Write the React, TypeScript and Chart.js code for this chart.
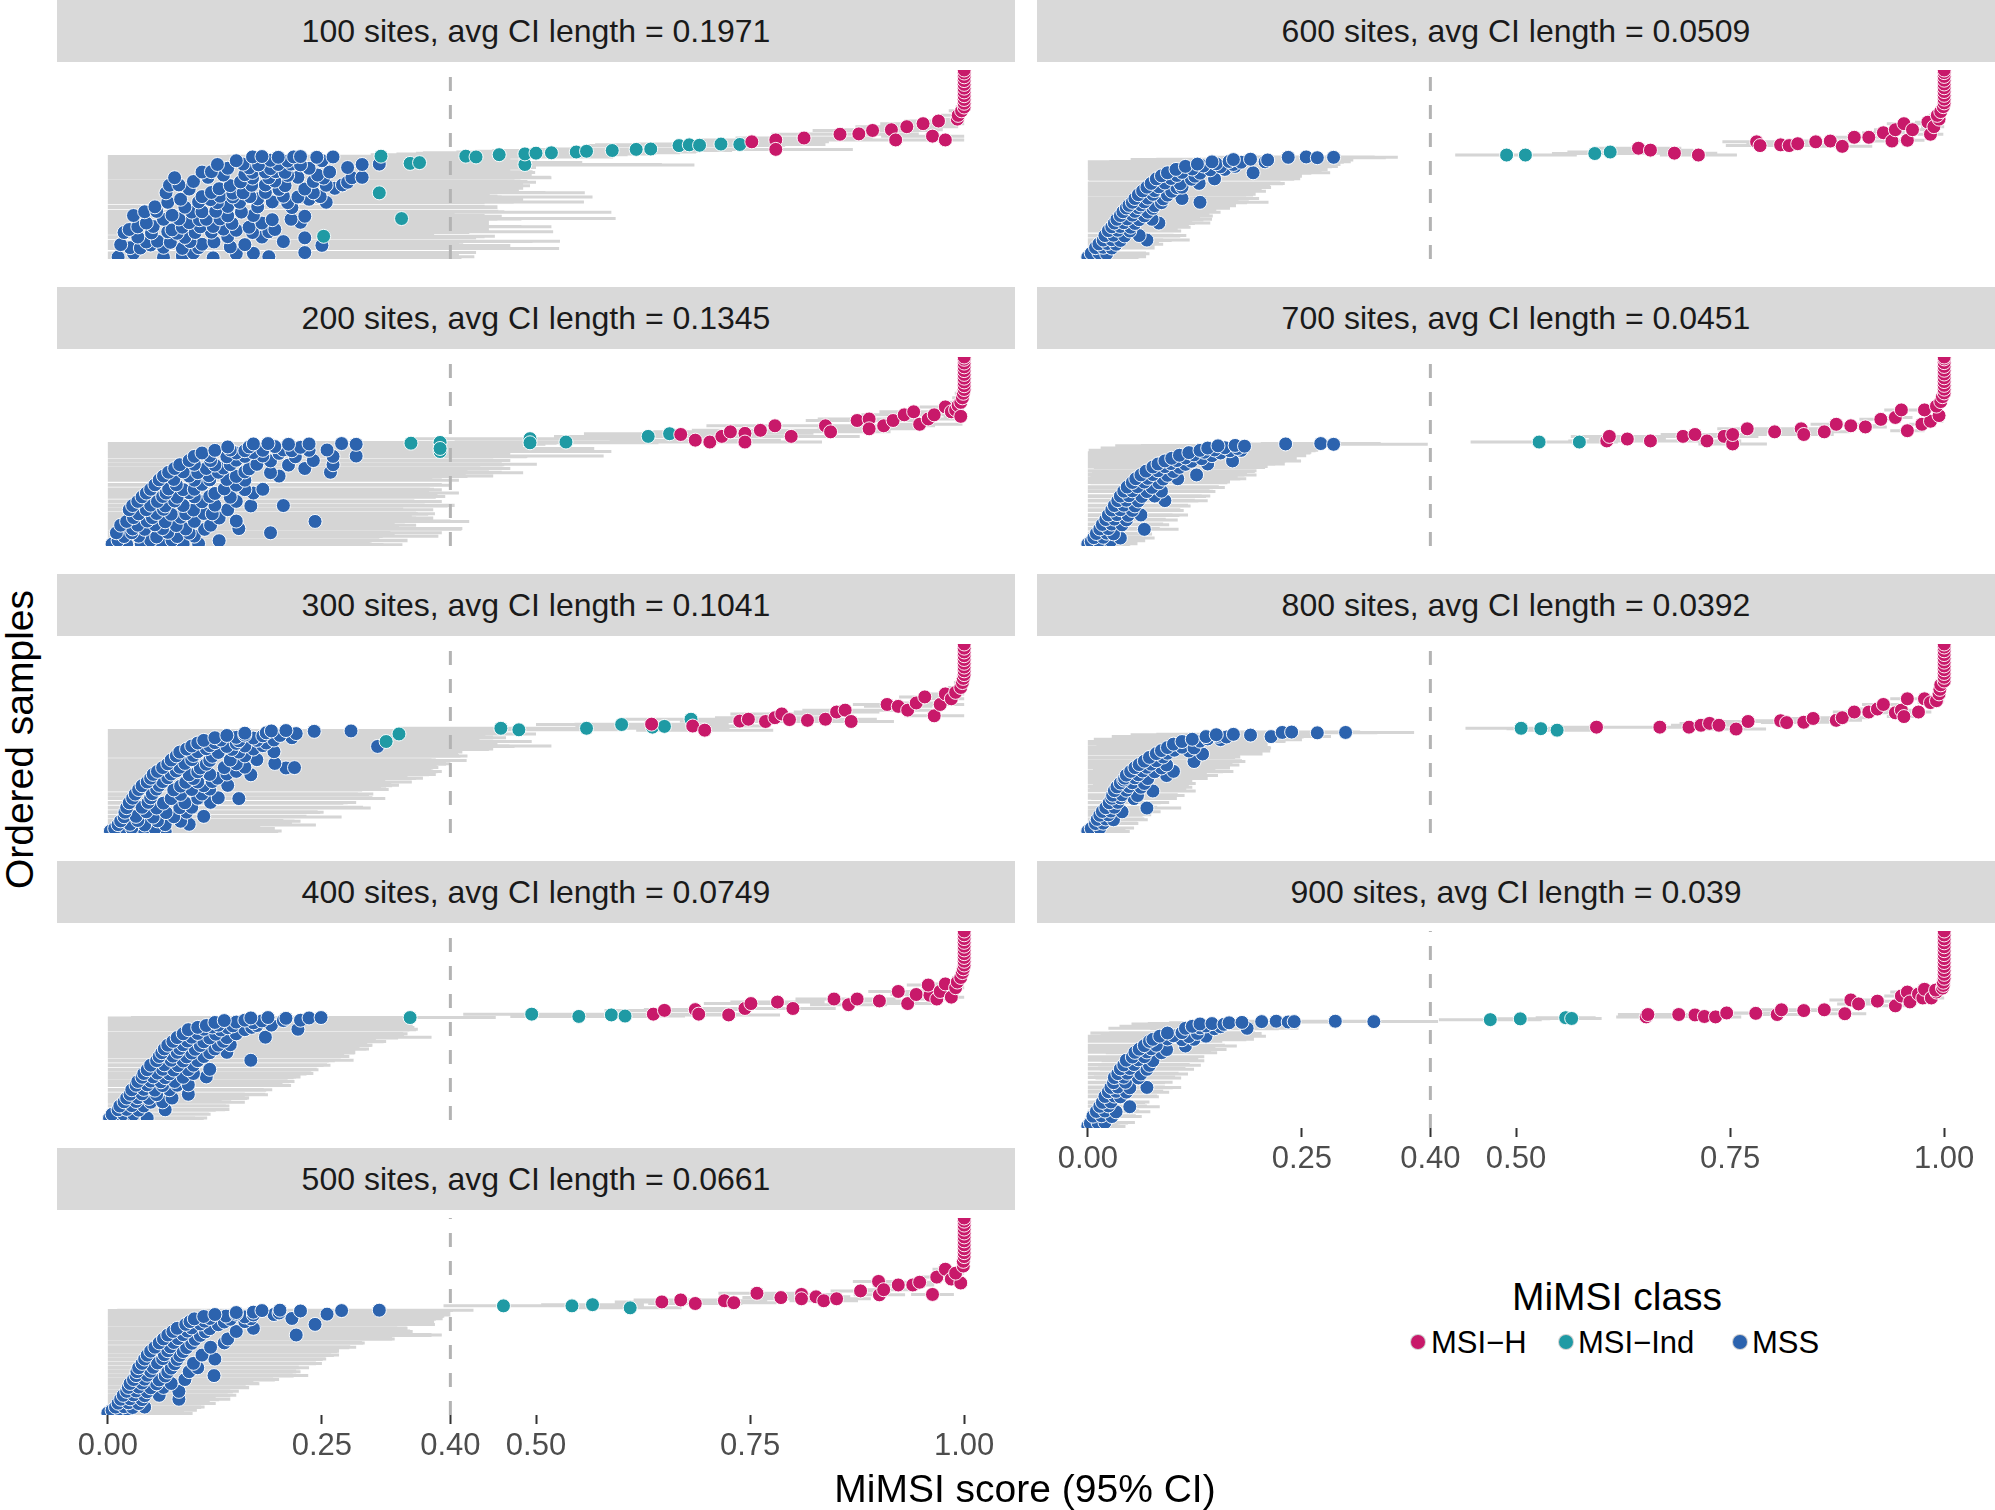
import React, { useEffect, useRef } from "react";
import Chart from "chart.js/auto";

// [order (0 = bottom, 500 = top), MiMSI score x1000, half CI length x1000]
type Pt = [number, number, number];

const SITES = [100, 200, 300, 400, 500, 600, 700, 800, 900];
const AVG_CI = ["0.1971", "0.1345", "0.1041", "0.0749", "0.0661", "0.0509", "0.0451", "0.0392", "0.039"];
const X_TICKS = [0, 0.25, 0.4, 0.5, 0.75, 1];
const THRESHOLD = 0.4;
const ORDER_MAX = 500;
const CLASS_NAMES = ["MSI\u2212H", "MSI\u2212Ind", "MSS"];
const CLASS_COLORS = ["#C8196A", "#1F9AA4", "#2C63AE"];
const FONT = '"Liberation Sans", Arial, Helvetica, sans-serif';

// ---- 100 sites
const P100_MSS: Pt[] = [
    [5, 12, 370], [4, 65, 330], [8, 87, 300], [3, 123, 290], [6, 188, 240],
    [15, 30, 350], [16, 100, 300], [14, 150, 260], [15, 170, 230], [17, 230, 200],
    [30, 26, 420], [29, 38, 280], [31, 65, 350], [28, 87, 440], [30, 106, 250], [32, 143, 230],
    [38, 15, 400], [37, 50, 350], [39, 110, 300], [38, 160, 250], [36, 250, 220],
    [45, 45, 330], [47, 58, 470], [44, 73, 300], [46, 96, 400], [45, 124, 260], [46, 205, 200],
    [58, 35, 380], [57, 90, 320], [59, 140, 300], [58, 180, 230], [56, 230, 200],
    [70, 19, 380], [69, 51, 330], [72, 70, 450], [68, 81, 300], [70, 102, 320], [71, 121, 300], [70, 169, 250], [72, 188, 240],
    [78, 25, 360], [77, 75, 330], [79, 135, 280], [78, 195, 250], [76, 150, 260],
    [85, 35, 360], [86, 53, 430], [84, 87, 300], [85, 108, 410], [86, 123, 260], [84, 165, 250],
    [95, 45, 400], [96, 95, 350], [94, 145, 300], [95, 180, 260], [97, 225, 220],
    [105, 65, 330], [106, 83, 400], [104, 107, 300], [105, 115, 340], [106, 131, 260], [104, 192, 250], [105, 214, 220],
    [115, 30, 380], [116, 75, 330], [114, 140, 300], [115, 170, 270], [113, 230, 230],
    [125, 43, 420], [126, 57, 350], [124, 98, 490], [125, 110, 300], [126, 126, 330], [124, 156, 260],
    [138, 55, 380], [137, 90, 350], [139, 140, 300], [138, 175, 280], [136, 215, 240],
    [150, 70, 330], [151, 106, 450], [149, 128, 300], [150, 154, 320], [151, 192, 280], [149, 210, 230], [150, 255, 200],
    [158, 85, 370], [157, 120, 330], [159, 175, 300], [158, 235, 250],
    [165, 110, 350], [166, 131, 300], [164, 146, 420], [165, 166, 280], [166, 205, 250], [164, 222, 230], [165, 248, 200],
    [175, 68, 350], [176, 121, 390], [174, 146, 300], [175, 158, 250], [176, 184, 260], [175, 240, 220],
    [185, 95, 360], [186, 130, 330], [184, 200, 280], [185, 230, 250], [187, 265, 220],
    [195, 72, 400], [196, 83, 330], [194, 143, 350], [195, 168, 300], [196, 184, 270], [194, 207, 280], [195, 255, 230], [196, 274, 200],
    [205, 100, 350], [204, 155, 300], [206, 195, 280], [205, 240, 250], [203, 280, 220],
    [215, 78, 350], [216, 117, 400], [214, 169, 300], [215, 188, 330], [216, 222, 250], [214, 252, 230], [215, 285, 200], [216, 297, 220],
    [222, 135, 330], [223, 160, 300], [221, 210, 270], [222, 245, 250],
    [230, 110, 370], [231, 121, 300], [229, 169, 330], [230, 184, 260], [231, 196, 300], [229, 207, 250], [230, 259, 230],
    [240, 140, 320], [241, 165, 300], [239, 190, 280], [240, 235, 250], [242, 280, 220],
    [250, 128, 380], [251, 158, 300], [249, 176, 330], [250, 199, 260], [251, 214, 280], [249, 225, 460], [250, 297, 220], [251, 317, 200],
    [260, 150, 300], [261, 190, 280], [259, 210, 260], [260, 250, 230],
    [270, 169, 300], [271, 180, 260], [269, 199, 280], [270, 217, 250], [271, 225, 230], [269, 244, 230], [270, 263, 220],
];
const P100_IND: Pt[] = [
    [60, 252, 200], [107, 343, 250], [175, 317, 240], [272, 319, 180], [253, 353, 200], [255, 364, 190], [250, 487, 160],
    [272, 418, 170], [270, 430, 160], [276, 457, 150], [278, 487, 150], [280, 500, 140], [281, 518, 150], [283, 547, 140],
    [285, 559, 130], [287, 589, 140], [290, 617, 120], [291, 634, 120], [300, 667, 110], [302, 679, 110], [301, 691, 100],
    [304, 716, 100], [303, 738, 100],
];
const P100_H: Pt[] = [
    [310, 752, 90], [315, 780, 90], [290, 780, 90], [320, 813, 80], [330, 855, 80], [331, 877, 70], [340, 893, 70],
    [342, 915, 60], [315, 920, 70], [350, 933, 60], [358, 952, 50], [325, 963, 60], [365, 970, 40], [315, 978, 50],
    [370, 992, 25], [380, 993, 20], [392, 997, 15], [402, 1000, 10], [412, 1000, 6], [422, 1000, 5], [432, 1000, 5],
    [442, 1000, 4], [452, 1000, 4], [462, 1000, 3], [472, 1000, 3], [482, 1000, 3], [492, 1000, 2], [500, 1000, 2],
];

// ---- 200 sites
const P200_MSS: Pt[] = [
    [5, 5, 260], [4, 22, 300], [6, 39, 250], [3, 64, 280], [5, 88, 220], [6, 106, 200],
    [15, 12, 280], [15, 50, 300], [15, 75, 260], [14, 130, 220],
    [25, 19, 290], [26, 36, 350], [24, 57, 260], [25, 81, 240], [26, 101, 230],
    [35, 10, 300], [35, 28, 280], [36, 70, 260], [34, 95, 240], [35, 190, 200],
    [45, 29, 380], [44, 43, 300], [46, 64, 350], [45, 91, 230], [44, 113, 300], [46, 153, 220],
    [55, 15, 320], [55, 35, 300], [56, 55, 280], [54, 80, 260], [55, 120, 240],
    [65, 22, 340], [66, 46, 300], [64, 67, 280], [65, 101, 260], [66, 150, 250], [65, 242, 180],
    [75, 30, 330], [75, 52, 300], [76, 85, 270], [74, 130, 250],
    [85, 36, 320], [86, 57, 290], [84, 74, 300], [85, 91, 280], [86, 112, 250], [85, 122, 260],
    [96, 25, 320], [96, 45, 300], [97, 65, 280], [95, 100, 260], [96, 140, 240],
    [107, 29, 310], [108, 50, 290], [106, 67, 330], [107, 88, 260], [108, 125, 280], [106, 167, 220], [107, 205, 200],
    [118, 35, 330], [118, 58, 300], [119, 78, 280], [117, 110, 260], [118, 150, 240],
    [130, 40, 300], [131, 64, 330], [129, 81, 260], [130, 101, 280], [131, 119, 250], [129, 143, 240],
    [140, 45, 320], [140, 68, 300], [141, 95, 280], [139, 125, 260], [140, 170, 240],
    [150, 50, 320], [151, 71, 290], [149, 88, 300], [150, 101, 260], [151, 136, 240], [149, 160, 230], [150, 181, 200],
    [162, 55, 330], [162, 80, 300], [163, 110, 280], [161, 150, 250],
    [175, 60, 330], [176, 77, 300], [174, 101, 280], [175, 119, 260], [176, 139, 240], [174, 160, 250],
    [185, 65, 340], [185, 95, 310], [186, 118, 300], [184, 150, 270], [185, 200, 250],
    [195, 71, 350], [196, 88, 320], [194, 105, 380], [195, 129, 280], [196, 160, 260], [194, 190, 250], [195, 260, 200],
    [205, 78, 340], [205, 115, 320], [206, 135, 300], [204, 165, 280], [205, 230, 240],
    [215, 84, 340], [216, 101, 400], [214, 125, 300], [215, 143, 280], [216, 174, 300], [214, 211, 250], [215, 263, 200],
    [226, 95, 350], [226, 120, 320], [227, 150, 300], [225, 190, 270], [226, 240, 230],
    [237, 101, 360], [238, 119, 460], [236, 139, 300], [237, 160, 330], [238, 181, 280], [236, 219, 270], [237, 263, 220], [238, 290, 200],
    [246, 110, 360], [246, 150, 320], [247, 170, 300], [245, 200, 270],
    [253, 125, 350], [254, 143, 300], [252, 160, 330], [253, 181, 280], [254, 205, 260], [252, 215, 240], [253, 235, 250], [254, 256, 220],
    [262, 140, 330], [262, 165, 300], [263, 195, 280], [261, 225, 260],
    [270, 170, 330], [271, 187, 280], [269, 211, 300], [270, 235, 250], [271, 273, 230], [269, 290, 220],
];
const P200_IND: Pt[] = [
    [272, 354, 170], [274, 388, 170], [250, 388, 200], [258, 388, 180], [284, 493, 140], [273, 493, 150],
    [275, 535, 130], [290, 631, 110], [297, 656, 100],
];
const P200_H: Pt[] = [
    [295, 669, 100], [280, 686, 100], [275, 703, 90], [290, 717, 90], [302, 727, 90], [298, 744, 80], [275, 744, 90],
    [306, 762, 80], [318, 779, 80], [290, 798, 80], [318, 838, 70], [302, 844, 70], [332, 875, 60], [336, 889, 60],
    [310, 889, 60], [318, 906, 60], [332, 917, 50], [347, 930, 50], [355, 941, 40], [322, 948, 50], [336, 958, 40],
    [347, 965, 40], [368, 978, 30], [355, 985, 30], [360, 990, 20], [372, 993, 15], [343, 996, 20], [380, 996, 15],
    [392, 998, 12], [404, 999, 10], [414, 1000, 6], [424, 1000, 5], [434, 1000, 5], [444, 1000, 4], [454, 1000, 4],
    [464, 1000, 3], [474, 1000, 3], [484, 1000, 3], [494, 1000, 2], [500, 1000, 2],
];

// ---- 300 sites
const P300_MSS: Pt[] = [
    [5, 3, 150], [4, 19, 180], [6, 33, 130], [5, 43, 160], [4, 67, 120],
    [12, 8, 160], [13, 28, 150], [12, 55, 140],
    [22, 12, 180], [23, 26, 150], [21, 43, 200], [22, 67, 140], [23, 95, 120],
    [32, 15, 190], [33, 35, 170], [32, 58, 160], [31, 85, 140],
    [43, 19, 200], [44, 33, 170], [42, 53, 220], [43, 77, 150], [44, 112, 120],
    [55, 20, 220], [56, 45, 200], [54, 68, 180], [55, 92, 160],
    [67, 22, 230], [68, 40, 200], [66, 57, 250], [67, 84, 180], [68, 98, 200],
    [80, 25, 240], [81, 47, 220], [79, 65, 210], [80, 90, 190], [81, 120, 170],
    [92, 29, 260], [93, 50, 220], [91, 74, 250], [92, 105, 200], [93, 129, 180], [91, 153, 150],
    [103, 32, 260], [104, 52, 240], [102, 85, 220], [103, 110, 200],
    [115, 36, 270], [116, 57, 250], [114, 77, 220], [115, 98, 230], [116, 119, 200],
    [125, 40, 280], [126, 60, 260], [124, 85, 240], [125, 112, 220], [126, 140, 200],
    [135, 46, 300], [136, 64, 260], [134, 91, 240], [135, 105, 250], [136, 122, 200],
    [145, 50, 300], [146, 70, 280], [144, 100, 260], [145, 128, 240],
    [155, 53, 330], [156, 74, 300], [154, 95, 280], [155, 119, 260], [156, 139, 240], [154, 167, 200],
    [163, 58, 320], [164, 80, 300], [162, 105, 280], [163, 150, 240],
    [173, 64, 320], [174, 84, 300], [172, 108, 270], [173, 136, 250], [174, 160, 220], [172, 208, 170], [173, 218, 160],
    [183, 70, 320], [184, 90, 300], [182, 115, 280], [183, 150, 250], [184, 195, 200],
    [193, 74, 300], [194, 98, 280], [192, 119, 300], [193, 143, 240], [194, 174, 200],
    [204, 80, 330], [205, 100, 310], [203, 122, 290], [204, 160, 260],
    [214, 84, 330], [215, 105, 300], [213, 129, 280], [214, 153, 260], [215, 194, 200],
    [222, 92, 350], [223, 115, 330], [221, 145, 300], [222, 170, 280],
    [230, 98, 420], [231, 119, 350], [229, 139, 300], [230, 160, 280], [231, 181, 260], [229, 315, 160],
    [238, 105, 340], [239, 125, 320], [237, 150, 300], [238, 185, 270],
    [245, 112, 320], [246, 132, 300], [244, 153, 280], [245, 174, 260], [246, 194, 240],
    [252, 125, 320], [253, 150, 300], [251, 170, 280], [252, 215, 250],
    [258, 139, 300], [259, 160, 280], [257, 181, 260], [258, 201, 240],
    [264, 160, 280], [265, 185, 260], [263, 220, 230],
    [270, 191, 250], [271, 208, 240], [269, 241, 200], [270, 284, 180],
];
const P300_IND: Pt[] = [
    [242, 325, 170], [262, 340, 160], [277, 459, 120], [273, 480, 120], [277, 559, 110], [287, 600, 100],
    [280, 636, 90], [282, 650, 90], [301, 681, 80],
];
const P300_H: Pt[] = [
    [288, 635, 90], [283, 683, 80], [272, 697, 80], [296, 738, 70], [301, 748, 70], [295, 768, 70], [305, 779, 70],
    [315, 787, 60], [300, 796, 60], [298, 817, 60], [301, 838, 60], [320, 851, 50], [325, 861, 50], [295, 868, 50],
    [340, 910, 40], [335, 923, 40], [325, 934, 40], [344, 944, 35], [360, 954, 30], [310, 965, 35], [340, 972, 30],
    [368, 978, 25], [355, 985, 25], [372, 990, 20], [385, 996, 15], [398, 998, 10], [409, 999, 8], [419, 1000, 5],
    [429, 1000, 5], [439, 1000, 4], [449, 1000, 4], [459, 1000, 3], [469, 1000, 3], [479, 1000, 3], [489, 1000, 2],
    [500, 1000, 2],
];

// ---- 400 sites
const P400_MSS: Pt[] = [
    [5, 2, 90], [4, 12, 100], [6, 22, 80], [5, 46, 70],
    [15, 5, 95], [16, 18, 100], [15, 30, 90],
    [27, 12, 110], [28, 22, 120], [26, 36, 90], [27, 67, 70],
    [37, 14, 115], [38, 28, 110], [37, 42, 100],
    [48, 19, 120], [49, 33, 100], [47, 50, 110], [48, 64, 80],
    [58, 22, 130], [59, 35, 125], [57, 48, 115], [58, 75, 90],
    [68, 26, 140], [69, 40, 120], [67, 57, 130], [68, 94, 90],
    [80, 28, 150], [81, 42, 140], [79, 55, 130], [80, 72, 120],
    [92, 33, 160], [93, 46, 140], [91, 64, 150], [92, 81, 120], [93, 94, 110],
    [102, 35, 170], [103, 50, 160], [101, 62, 150], [102, 78, 140],
    [113, 40, 180], [114, 53, 160], [112, 67, 150], [113, 88, 130], [114, 115, 110],
    [123, 42, 190], [124, 58, 180], [122, 72, 160], [123, 100, 140],
    [133, 46, 200], [134, 64, 180], [132, 77, 160], [133, 94, 150], [134, 119, 120],
    [145, 50, 200], [146, 66, 190], [144, 82, 170], [145, 100, 160],
    [157, 57, 200], [158, 74, 190], [156, 88, 170], [157, 105, 160], [158, 167, 120],
    [168, 60, 210], [169, 76, 200], [167, 92, 180], [168, 112, 170],
    [178, 63, 220], [179, 81, 200], [177, 98, 190], [178, 119, 170], [179, 139, 150],
    [188, 66, 225], [189, 84, 210], [187, 102, 200], [188, 125, 180],
    [198, 70, 230], [199, 88, 210], [197, 108, 200], [198, 129, 180], [199, 143, 160],
    [208, 76, 235], [209, 93, 220], [207, 112, 210], [208, 135, 190],
    [218, 81, 240], [219, 98, 280], [217, 119, 220], [218, 139, 200], [219, 184, 150],
    [228, 88, 250], [229, 105, 240], [227, 126, 220], [228, 150, 200],
    [239, 94, 250], [240, 112, 230], [238, 132, 220], [239, 160, 200], [240, 222, 140],
    [245, 105, 245], [246, 122, 230], [244, 140, 215], [245, 168, 190],
    [250, 115, 240], [251, 129, 220], [249, 146, 210], [250, 174, 180], [251, 191, 160],
    [258, 125, 225], [259, 150, 200], [257, 170, 180],
    [263, 136, 210], [264, 160, 190], [262, 180, 170], [263, 205, 150], [264, 225, 130],
    [270, 167, 180], [271, 187, 160], [269, 208, 140], [270, 235, 120], [271, 249, 110],
];
const P400_IND: Pt[] = [
    [271, 353, 100], [280, 495, 80], [274, 550, 80], [278, 588, 70], [275, 604, 70],
];
const P400_H: Pt[] = [
    [280, 637, 70], [290, 650, 70], [292, 686, 60], [280, 690, 60], [278, 725, 60], [295, 744, 60], [308, 751, 55],
    [312, 782, 55], [295, 800, 50], [320, 848, 45], [305, 865, 45], [320, 875, 45], [315, 901, 40], [340, 923, 35],
    [308, 934, 35], [332, 944, 30], [330, 960, 25], [357, 958, 25], [320, 968, 25], [340, 972, 20], [360, 978, 20],
    [325, 985, 20], [350, 990, 15], [365, 992, 12], [377, 996, 10], [390, 998, 8], [400, 999, 8], [410, 1000, 5],
    [420, 1000, 5], [430, 1000, 4], [440, 1000, 4], [450, 1000, 4], [460, 1000, 3], [470, 1000, 3], [480, 1000, 3],
    [490, 1000, 2], [500, 1000, 2],
];

// ---- 500 sites
const P500_MSS: Pt[] = [
    [5, 0, 80], [4, 9, 90], [6, 19, 70],
    [12, 5, 85], [13, 14, 90], [12, 24, 80],
    [20, 9, 100], [21, 19, 90], [19, 29, 80], [20, 43, 70],
    [30, 12, 105], [31, 24, 95], [29, 36, 90],
    [40, 15, 110], [41, 26, 100], [39, 40, 90], [40, 83, 60],
    [50, 18, 120], [51, 30, 110], [49, 43, 100], [50, 60, 90],
    [60, 22, 130], [61, 33, 110], [59, 46, 100], [60, 83, 70],
    [70, 24, 140], [71, 36, 125], [69, 50, 115], [70, 65, 100],
    [80, 26, 150], [81, 40, 130], [79, 57, 120], [80, 74, 100],
    [90, 30, 170], [91, 43, 150], [89, 60, 135], [90, 90, 110],
    [100, 33, 200], [101, 46, 170], [99, 67, 150], [100, 124, 110],
    [110, 34, 190], [111, 50, 170], [109, 70, 150], [110, 95, 130],
    [120, 36, 190], [121, 53, 170], [119, 74, 150], [120, 105, 130],
    [131, 40, 200], [132, 58, 185], [130, 78, 165], [131, 100, 150],
    [142, 43, 200], [143, 64, 190], [141, 81, 170], [142, 125, 130],
    [152, 46, 210], [153, 66, 195], [151, 84, 180], [152, 110, 160],
    [162, 50, 220], [163, 70, 200], [161, 88, 180],
    [172, 55, 230], [173, 73, 210], [171, 92, 190], [172, 120, 170],
    [183, 60, 240], [184, 77, 220], [182, 98, 200], [183, 136, 150],
    [193, 65, 270], [194, 82, 250], [192, 102, 230], [193, 140, 190],
    [203, 70, 300], [204, 88, 290], [202, 108, 270], [203, 220, 170],
    [212, 76, 280], [213, 93, 260], [211, 114, 240], [212, 150, 200],
    [220, 81, 260], [221, 98, 240], [219, 119, 220], [220, 170, 180],
    [230, 91, 280], [231, 108, 250], [229, 129, 220], [230, 242, 140],
    [237, 96, 285], [238, 113, 260], [236, 136, 235], [237, 160, 210],
    [244, 101, 290], [245, 119, 260], [243, 143, 240], [244, 167, 220], [245, 215, 170],
    [250, 112, 280], [251, 138, 255], [249, 160, 230],
    [255, 125, 270], [256, 150, 250], [254, 170, 230], [255, 194, 200], [256, 256, 140],
    [260, 150, 240], [261, 170, 220], [259, 200, 200],
    [265, 180, 200], [266, 201, 190], [264, 225, 160], [265, 273, 130], [266, 317, 110],
];
const P500_IND: Pt[] = [
    [277, 462, 70], [277, 542, 60], [280, 566, 60], [272, 610, 60],
];
const P500_H: Pt[] = [
    [287, 647, 55], [292, 669, 55], [283, 686, 55], [290, 720, 50], [285, 731, 50], [309, 758, 45], [298, 786, 45],
    [306, 810, 45], [295, 810, 45], [300, 827, 40], [290, 836, 40], [295, 851, 40], [315, 879, 35], [339, 900, 30],
    [305, 901, 30], [318, 906, 30], [330, 923, 30], [330, 940, 25], [337, 948, 25], [306, 963, 25], [350, 968, 20],
    [370, 978, 15], [345, 985, 15], [335, 996, 10], [360, 990, 12], [378, 999, 8], [390, 999, 6], [402, 1000, 5],
    [412, 1000, 5], [422, 1000, 4], [432, 1000, 4], [442, 1000, 4], [452, 1000, 3], [462, 1000, 3], [472, 1000, 3],
    [482, 1000, 2], [492, 1000, 2], [500, 1000, 2],
];

// ---- 600 sites
const P600_MSS: Pt[] = [
    [5, 0, 60], [4, 9, 50], [6, 18, 50],
    [15, 4, 55], [16, 13, 55], [14, 22, 50],
    [30, 9, 60], [31, 18, 60], [29, 28, 50],
    [40, 13, 65], [41, 23, 60], [39, 33, 55],
    [50, 18, 70], [51, 28, 60], [49, 38, 60], [50, 69, 50],
    [62, 20, 75], [63, 30, 70], [61, 43, 65], [62, 60, 55],
    [75, 24, 80], [76, 35, 70], [74, 49, 60],
    [85, 28, 85], [86, 38, 80], [84, 50, 70],
    [95, 31, 90], [96, 42, 80], [94, 55, 70], [95, 83, 60],
    [105, 34, 95], [106, 46, 85], [104, 60, 75], [105, 75, 70],
    [115, 38, 100], [116, 52, 90], [114, 66, 80],
    [125, 41, 105], [126, 55, 95], [124, 70, 85],
    [135, 45, 110], [136, 59, 100], [134, 76, 90],
    [142, 48, 115], [143, 62, 105], [141, 78, 95],
    [150, 52, 120], [151, 66, 110], [149, 86, 100], [150, 131, 80],
    [160, 55, 125], [161, 70, 115], [159, 88, 100], [160, 110, 90],
    [170, 59, 130], [171, 76, 120], [169, 93, 100],
    [180, 64, 135], [181, 78, 125], [179, 98, 110],
    [190, 69, 140], [191, 83, 130], [189, 104, 110], [190, 110, 100],
    [200, 74, 145], [201, 90, 135], [199, 108, 120], [200, 130, 100],
    [212, 80, 150], [213, 97, 140], [211, 121, 120], [212, 148, 100],
    [220, 86, 155], [221, 104, 145], [219, 125, 125],
    [228, 93, 160], [229, 110, 150], [227, 131, 130], [228, 193, 90],
    [237, 103, 165], [238, 122, 150], [236, 143, 130], [237, 160, 120],
    [245, 114, 170], [246, 135, 150], [244, 155, 130], [245, 172, 120],
    [251, 128, 160], [252, 150, 145], [250, 170, 125],
    [257, 145, 150], [258, 165, 140], [256, 179, 120], [257, 207, 100],
    [263, 170, 120], [264, 190, 110], [262, 210, 100],
    [269, 234, 90], [270, 255, 80], [268, 268, 80], [269, 287, 75],
];
const P600_IND: Pt[] = [
    [275, 489, 60], [275, 511, 60], [279, 592, 50], [283, 610, 50],
];
const P600_H: Pt[] = [
    [293, 643, 50], [288, 657, 50], [280, 685, 50], [275, 713, 45], [310, 781, 40], [300, 785, 40], [302, 809, 40],
    [300, 819, 40], [305, 829, 40], [310, 850, 35], [312, 867, 35], [298, 881, 35], [322, 895, 30], [322, 912, 30],
    [334, 929, 25], [312, 939, 25], [342, 943, 25], [358, 953, 20], [314, 957, 20], [342, 963, 20], [362, 981, 15],
    [330, 984, 15], [350, 988, 15], [370, 994, 10], [380, 992, 10], [390, 996, 8], [403, 999, 5], [413, 1000, 5],
    [423, 1000, 4], [433, 1000, 4], [443, 1000, 4], [453, 1000, 3], [463, 1000, 3], [473, 1000, 3], [483, 1000, 2],
    [493, 1000, 2], [500, 1000, 2],
];

// ---- 700 sites
const P700_MSS: Pt[] = [
    [5, 0, 50], [4, 9, 40], [6, 18, 40],
    [12, 4, 45], [13, 13, 45], [14, 27, 40],
    [22, 7, 50], [23, 18, 50], [21, 38, 40],
    [33, 10, 55], [34, 22, 50], [32, 30, 45],
    [45, 14, 60], [46, 24, 60], [44, 66, 40],
    [57, 17, 65], [58, 28, 60], [56, 40, 55],
    [70, 21, 70], [71, 31, 60], [69, 45, 60],
    [82, 24, 75], [83, 34, 65], [81, 47, 60], [82, 62, 55],
    [95, 28, 80], [96, 38, 70], [94, 52, 60],
    [107, 31, 85], [108, 42, 75], [106, 55, 65],
    [120, 35, 90], [121, 45, 80], [119, 59, 70], [120, 90, 50],
    [132, 38, 95], [133, 48, 85], [131, 63, 75], [132, 78, 65],
    [145, 42, 100], [146, 52, 90], [144, 69, 80], [145, 86, 60],
    [156, 46, 105], [157, 58, 95], [155, 75, 85],
    [168, 52, 110], [169, 66, 100], [167, 83, 80],
    [178, 56, 115], [179, 70, 105], [177, 88, 90], [178, 105, 80],
    [188, 62, 120], [189, 76, 110], [187, 93, 90], [188, 127, 70],
    [198, 68, 125], [199, 82, 115], [197, 100, 95],
    [209, 76, 130], [210, 90, 120], [208, 107, 100],
    [217, 82, 135], [218, 97, 125], [216, 114, 105], [217, 140, 90],
    [225, 90, 140], [226, 104, 130], [224, 121, 110], [225, 169, 80],
    [232, 98, 140], [233, 114, 130], [231, 133, 110],
    [240, 107, 140], [241, 124, 130], [239, 145, 110],
    [247, 118, 135], [248, 136, 125], [246, 155, 105],
    [253, 131, 130], [254, 148, 120], [252, 166, 100], [253, 179, 90],
    [259, 140, 125], [260, 160, 115], [258, 175, 100],
    [265, 152, 120], [266, 172, 110], [264, 183, 100],
    [270, 231, 80], [271, 272, 70], [269, 287, 110],
];
const P700_IND: Pt[] = [
    [275, 527, 80], [275, 574, 45],
];
const P700_H: Pt[] = [
    [278, 606, 45], [290, 609, 45], [283, 630, 45], [278, 657, 40], [290, 695, 40], [295, 709, 40], [278, 723, 40],
    [290, 743, 40], [270, 753, 40], [295, 753, 40], [310, 770, 35], [302, 802, 35], [310, 833, 35], [295, 836, 35],
    [302, 860, 30], [322, 874, 30], [318, 891, 30], [315, 908, 25], [335, 926, 25], [340, 943, 20], [360, 950, 20],
    [305, 957, 20], [322, 974, 15], [330, 984, 15], [360, 977, 15], [345, 994, 10], [370, 991, 10], [382, 996, 8],
    [395, 998, 5], [405, 1000, 5], [415, 1000, 4], [425, 1000, 4], [435, 1000, 4], [445, 1000, 3], [455, 1000, 3],
    [465, 1000, 3], [475, 1000, 2], [485, 1000, 2], [495, 1000, 2], [500, 1000, 2],
];

// ---- 800 sites
const P800_MSS: Pt[] = [
    [5, 0, 40], [4, 9, 40],
    [12, 4, 40], [13, 14, 40],
    [25, 9, 50], [26, 18, 40],
    [36, 11, 45], [37, 21, 45], [35, 30, 40],
    [47, 14, 50], [48, 24, 50],
    [57, 17, 55], [58, 27, 50], [56, 40, 45],
    [67, 21, 60], [68, 31, 50], [66, 69, 40],
    [80, 25, 60], [81, 35, 60],
    [92, 28, 70], [93, 38, 60], [91, 54, 50],
    [100, 29, 70], [101, 40, 65], [99, 58, 55],
    [112, 31, 80], [113, 45, 70], [111, 76, 50],
    [122, 34, 75], [123, 48, 70], [121, 62, 60],
    [132, 38, 80], [133, 52, 70], [131, 66, 60], [140, 42, 80],
    [145, 43, 85], [146, 55, 80], [144, 70, 70],
    [153, 45, 90], [154, 59, 80], [152, 92, 60],
    [163, 50, 95], [164, 64, 85], [162, 78, 80], [163, 100, 70],
    [173, 55, 100], [174, 69, 90], [172, 86, 80],
    [181, 60, 105], [182, 74, 95], [180, 92, 85],
    [190, 66, 110], [191, 80, 100], [189, 124, 60],
    [200, 72, 100], [201, 88, 90],
    [210, 80, 110], [211, 93, 100], [209, 134, 70],
    [218, 86, 115], [219, 101, 105], [217, 118, 95],
    [226, 93, 120], [227, 110, 100], [225, 124, 90], [235, 100, 110],
    [242, 110, 120], [243, 131, 100],
    [248, 122, 115], [249, 140, 105], [247, 155, 95],
    [255, 138, 110], [256, 152, 100], [254, 162, 90], [255, 214, 70],
    [260, 150, 100], [261, 170, 90], [259, 190, 80],
    [266, 227, 80], [267, 238, 80], [265, 268, 70], [266, 301, 80],
];
const P800_IND: Pt[] = [
    [277, 506, 65], [276, 529, 40], [272, 548, 40],
];
const P800_H: Pt[] = [
    [280, 594, 40], [280, 668, 40], [280, 702, 40], [285, 716, 35], [290, 726, 35], [285, 737, 35], [275, 757, 35],
    [295, 771, 35], [297, 809, 30], [292, 816, 30], [293, 836, 30], [303, 847, 30], [298, 874, 30], [305, 881, 30],
    [320, 895, 25], [320, 912, 25], [328, 922, 25], [340, 929, 25], [318, 943, 20], [325, 950, 20], [308, 953, 20],
    [355, 957, 20], [320, 970, 15], [355, 977, 15], [345, 984, 15], [350, 991, 10], [368, 994, 8], [380, 995, 6],
    [392, 996, 5], [402, 1000, 5], [412, 1000, 4], [422, 1000, 4], [432, 1000, 4], [442, 1000, 3], [452, 1000, 3],
    [462, 1000, 3], [472, 1000, 2], [482, 1000, 2], [492, 1000, 2], [500, 1000, 2],
];

// ---- 900 sites
const P900_MSS: Pt[] = [
    [5, 0, 35], [4, 9, 35],
    [12, 3, 35], [13, 12, 35], [14, 20, 35],
    [30, 6, 40], [31, 16, 40], [29, 28, 35],
    [42, 10, 45], [43, 20, 40], [41, 33, 40],
    [55, 14, 50], [56, 24, 45], [54, 49, 35],
    [65, 17, 50], [66, 27, 45],
    [80, 20, 55], [81, 31, 50], [79, 38, 45],
    [92, 24, 55], [93, 33, 55], [91, 45, 50],
    [103, 27, 60], [104, 35, 55], [102, 49, 50], [103, 69, 40],
    [115, 30, 60], [116, 44, 55],
    [128, 31, 65], [129, 42, 60], [127, 59, 50],
    [138, 35, 65], [139, 46, 60], [137, 62, 55],
    [150, 38, 70], [151, 49, 65], [149, 69, 55],
    [160, 42, 70], [161, 54, 65], [159, 72, 60],
    [172, 45, 75], [173, 59, 70], [171, 76, 60],
    [180, 52, 75], [181, 66, 70],
    [192, 55, 80], [193, 69, 75], [191, 86, 65],
    [200, 60, 80], [201, 74, 75], [199, 92, 70],
    [209, 66, 85], [210, 80, 80], [208, 114, 60],
    [220, 72, 85],
    [225, 76, 90], [226, 93, 85], [224, 110, 75], [225, 124, 70],
    [233, 84, 90], [234, 100, 85], [232, 118, 75], [233, 138, 70],
    [241, 93, 90], [242, 110, 85], [240, 128, 75],
    [253, 114, 90], [254, 131, 85], [252, 148, 75], [253, 186, 60],
    [258, 122, 85], [259, 138, 80], [257, 155, 75],
    [264, 131, 80], [265, 145, 75], [263, 159, 70],
    [267, 165, 70], [268, 180, 65],
    [270, 203, 60], [271, 220, 55], [269, 234, 55], [270, 241, 50], [271, 289, 50], [270, 334, 75],
];
const P900_IND: Pt[] = [
    [275, 470, 60], [277, 505, 35], [280, 558, 35], [278, 565, 35],
];
const P900_H: Pt[] = [
    [282, 652, 35], [288, 654, 35], [288, 690, 30], [287, 709, 30], [283, 720, 30], [282, 733, 30], [292, 746, 30],
    [291, 780, 30], [288, 805, 30], [300, 810, 30], [298, 836, 25], [300, 860, 25], [290, 884, 25], [325, 891, 25],
    [315, 900, 25], [322, 922, 20], [310, 943, 20], [335, 950, 20], [345, 957, 20], [320, 960, 20], [340, 970, 15],
    [330, 975, 15], [352, 977, 15], [330, 985, 15], [345, 991, 10], [350, 990, 10], [355, 998, 10], [362, 999, 8],
    [370, 999, 6], [380, 1000, 5], [390, 1000, 4], [400, 1000, 4], [410, 1000, 4], [420, 1000, 3], [430, 1000, 3],
    [440, 1000, 3], [450, 1000, 3], [460, 1000, 2], [470, 1000, 2], [480, 1000, 2], [490, 1000, 2], [500, 1000, 2],
];

// per panel: [MSS, MSI-Ind, MSI-H]
const PANEL_POINTS: Pt[][][] = [
    [P100_MSS, P100_IND, P100_H],
    [P200_MSS, P200_IND, P200_H],
    [P300_MSS, P300_IND, P300_H],
    [P400_MSS, P400_IND, P400_H],
    [P500_MSS, P500_IND, P500_H],
    [P600_MSS, P600_IND, P600_H],
    [P700_MSS, P700_IND, P700_H],
    [P800_MSS, P800_IND, P800_H],
    [P900_MSS, P900_IND, P900_H],
];

const STRIP_H = 62;
const PLOT_H = 205;
const ROW_STEP = 287;
const PANEL_W = 958;
const COL_X = [57, 1037];
const AXIS_H = 60;

type PanelProps = { index: number; left: number; top: number; withAxis: boolean };

function Panel({ index, left, top, withAxis }: PanelProps) {
    const canvasRef = useRef<HTMLCanvasElement | null>(null);
    const height = PLOT_H + (withAxis ? AXIS_H : 0);

    useEffect(() => {
        const canvas = canvasRef.current;
        if (!canvas) return;

        const points: { x: number; y: number }[] = [];
        const colors: string[] = [];
        const bars: { x: number; y: number }[] = [];
        const classOf = [2, 1, 0];
        PANEL_POINTS[index].forEach((list, g) => {
            list.forEach(([order, score, half]) => {
                const x = score / 1000;
                const w = half / 1000;
                points.push({ x, y: order });
                colors.push(CLASS_COLORS[classOf[g]]);
                bars.push({ x: Math.max(0, x - w), y: order }, { x: Math.min(1, x + w), y: order }, { x: NaN, y: NaN });
            });
        });

        const chart = new Chart(canvas, {
            type: "scatter",
            data: {
                datasets: [
                    {
                        type: "scatter",
                        data: points,
                        pointBackgroundColor: colors,
                        pointBorderColor: "rgba(255,255,255,0.95)",
                        pointBorderWidth: 1,
                        pointRadius: 7,
                        order: 0,
                        clip: 0,
                    },
                    {
                        // threshold line sits over the CI bars, under the points
                        type: "line",
                        data: [{ x: THRESHOLD, y: 0 }, { x: THRESHOLD, y: ORDER_MAX }],
                        borderColor: "#b3b3b3",
                        borderWidth: 3,
                        borderDash: [14, 14],
                        pointRadius: 0,
                        fill: false,
                        order: 1,
                        clip: 0,
                    },
                    {
                        type: "line",
                        data: bars,
                        borderColor: "rgba(175,175,175,0.52)",
                        borderWidth: 3,
                        pointRadius: 0,
                        spanGaps: false,
                        fill: false,
                        order: 2,
                        clip: 0,
                    },
                ] as any,
            },
            options: {
                animation: false,
                responsive: false,
                maintainAspectRatio: false,
                events: [],
                layout: { padding: 0 },
                plugins: { legend: { display: false }, tooltip: { enabled: false } },
                scales: {
                    x: {
                        type: "linear",
                        min: -0.05,
                        max: 1.05,
                        display: withAxis,
                        afterBuildTicks: (axis: any) => {
                            axis.ticks = X_TICKS.map((v) => ({ value: v }));
                        },
                        afterFit: (axis: any) => {
                            axis.height = withAxis ? AXIS_H : 0;
                        },
                        grid: {
                            display: true,
                            drawOnChartArea: false,
                            drawTicks: true,
                            tickLength: 9,
                            tickWidth: 2,
                            tickColor: "#333333",
                        },
                        border: { display: false },
                        ticks: {
                            autoSkip: false,
                            maxRotation: 0,
                            padding: 4,
                            color: "#4d4d4d",
                            font: { family: FONT, size: 31 },
                            callback: (v: any) => Number(v).toFixed(2),
                        },
                    },
                    y: { type: "linear", min: 0, max: ORDER_MAX, display: false },
                },
            } as any,
        });

        return () => {
            chart.destroy();
        };
    }, [index, withAxis]);

    return (
        <canvas
            ref={canvasRef}
            width={PANEL_W}
            height={height}
            style={{ position: "absolute", left, top, width: PANEL_W, height }}
        />
    );
}

export default function App() {
    const panels = SITES.map((sites, i) => {
        const col = i < 5 ? 0 : 1;
        const row = i < 5 ? i : i - 5;
        return { i, sites, left: COL_X[col], top: row * ROW_STEP, withAxis: i === 4 || i === 8 };
    });

    return (
        <div
            style={{
                position: "absolute",
                left: 0,
                top: 0,
                width: 1995,
                height: 1510,
                background: "#ffffff",
                fontFamily: FONT,
                overflow: "hidden",
            }}
        >
            {panels.map((p) => (
                <React.Fragment key={p.i}>
                    <div
                        style={{
                            position: "absolute",
                            left: p.left,
                            top: p.top,
                            width: PANEL_W,
                            height: STRIP_H,
                            background: "#d9d9d9",
                            color: "#1a1a1a",
                            fontSize: 32,
                            display: "flex",
                            alignItems: "center",
                            justifyContent: "center",
                            whiteSpace: "nowrap",
                        }}
                    >
                        {`${p.sites} sites, avg CI length = ${AVG_CI[p.i]}`}
                    </div>
                    <Panel index={p.i} left={p.left} top={p.top + STRIP_H} withAxis={p.withAxis} />
                </React.Fragment>
            ))}

            {/* axis titles */}
            <div
                style={{
                    position: "absolute",
                    left: 1025,
                    top: 1469,
                    transform: "translateX(-50%)",
                    fontSize: 39,
                    lineHeight: "39px",
                    color: "#000",
                    whiteSpace: "nowrap",
                }}
            >
                MiMSI score (95% CI)
            </div>
            <div
                style={{
                    position: "absolute",
                    left: 19 - 250,
                    top: 739 - 19.5,
                    width: 500,
                    height: 39,
                    textAlign: "center",
                    transform: "rotate(-90deg)",
                    fontSize: 39,
                    lineHeight: "39px",
                    color: "#000",
                    whiteSpace: "nowrap",
                }}
            >
                Ordered samples
            </div>

            {/* legend */}
            <div
                style={{
                    position: "absolute",
                    left: 1617,
                    top: 1277,
                    transform: "translateX(-50%)",
                    fontSize: 39,
                    lineHeight: "39px",
                    color: "#000",
                    whiteSpace: "nowrap",
                }}
            >
                MiMSI class
            </div>
            {CLASS_NAMES.map((name, k) => {
                const dotX = [1418, 1566, 1740][k];
                const textX = [1431, 1578, 1752][k];
                return (
                    <React.Fragment key={name}>
                        <div
                            style={{
                                position: "absolute",
                                left: dotX - 7,
                                top: 1342 - 7,
                                width: 14,
                                height: 14,
                                borderRadius: "50%",
                                background: CLASS_COLORS[k],
                                boxShadow: "0 0 0 1px #d0d0d0",
                            }}
                        />
                        <div
                            style={{
                                position: "absolute",
                                left: textX,
                                top: 1327,
                                fontSize: 31,
                                lineHeight: "31px",
                                color: "#000",
                                whiteSpace: "nowrap",
                            }}
                        >
                            {name}
                        </div>
                    </React.Fragment>
                );
            })}
        </div>
    );
}
